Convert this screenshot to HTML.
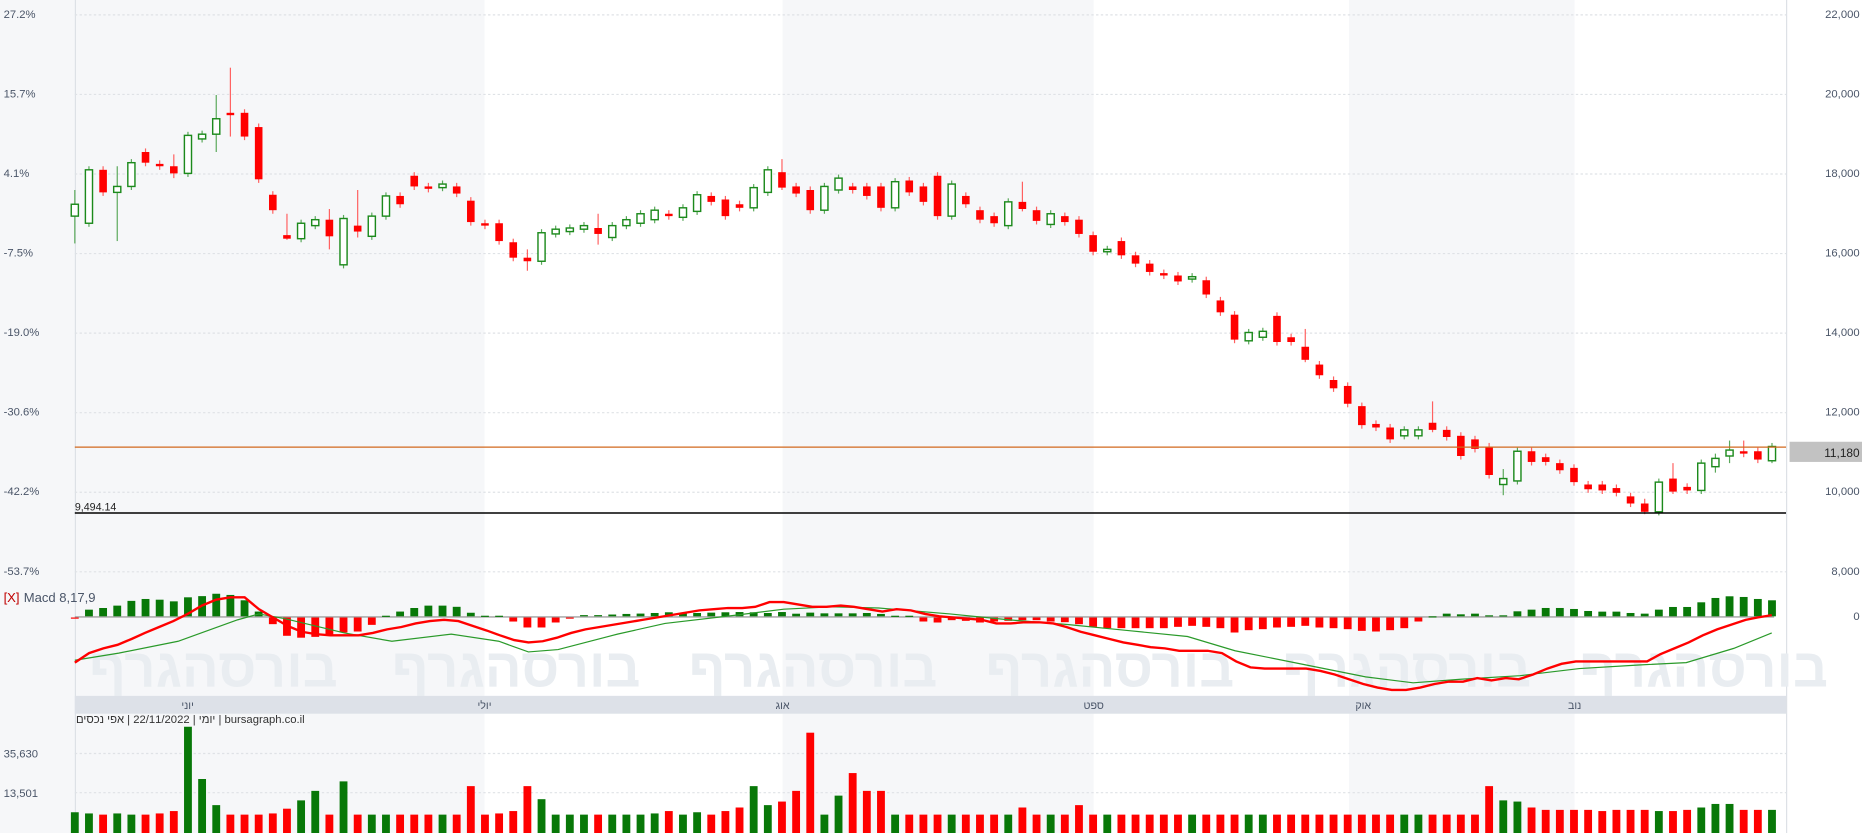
<!DOCTYPE html>
<html><head><meta charset="utf-8"><style>
html,body{margin:0;padding:0;background:#f6f7f9;}
svg{display:block;font-family:"Liberation Sans","Noto Sans CJK SC",sans-serif;}
</style></head><body>
<svg id="s" width="1862" height="833" viewBox="0 0 1568 701.47" xmlns="http://www.w3.org/2000/svg">
<rect x="0" y="0" width="1568" height="702" fill="#f6f7f9"/>
<rect x="408" y="0" width="251" height="586" fill="#ffffff"/>
<rect x="921" y="0" width="215" height="586" fill="#ffffff"/>
<rect x="1326" y="0" width="178" height="586" fill="#ffffff"/>
<rect x="408" y="601" width="251" height="101" fill="#ffffff"/>
<rect x="921" y="601" width="215" height="101" fill="#ffffff"/>
<rect x="1326" y="601" width="178" height="101" fill="#ffffff"/>
<rect x="1505" y="0" width="63" height="702" fill="#ffffff"/>
<line x1="1504.5" y1="0" x2="1504.5" y2="702" stroke="#dde1e6"/>
<line x1="63.5" y1="0" x2="63.5" y2="702" stroke="#dde1e6"/>
<g id="wm" font-size="46" font-weight="bold" fill="#e9edf1">
<text x="75" y="578">בורסהגרף</text><text x="330" y="578">בורסהגרף</text><text x="580" y="578">בורסהגרף</text><text x="830" y="578">בורסהגרף</text><text x="1080" y="578">בורסהגרף</text><text x="1330" y="578">בורסהגרף</text>
</g>
<g id="grid" stroke="#dfe2e6" stroke-dasharray="2,2"></g>
<g id="c"></g>
<line x1="63" y1="376.5" x2="1504" y2="376.5" stroke="#d2691e" stroke-width="1"/>
<line x1="63" y1="432" x2="1504" y2="432" stroke="#000" stroke-width="1.2"/>
<text x="63" y="430" font-size="9" fill="#222">9,494.14</text>
<rect x="1507" y="372" width="61" height="17" fill="#c2c2c2"/>
<text x="1566" y="385" font-size="10" fill="#222" text-anchor="end">11,180</text>
<g id="lab" font-size="9.5" fill="#4a5568"></g>
<text x="3" y="507" font-size="11" fill="#c00000">[X]</text>
<text x="20" y="507" font-size="11" fill="#4a5568">Macd 8,17,9</text>
<text x="1566" y="522" font-size="9.5" fill="#4a5568" text-anchor="end">0</text>
<rect x="63" y="586" width="1441" height="15" fill="#dde1e8"/>
<g font-size="9" fill="#4a5568" text-anchor="middle">
<text x="158" y="597">יוני</text><text x="408" y="597">יולי</text><text x="659" y="597">אוג</text><text x="921" y="597">ספט</text><text x="1148" y="597">אוק</text><text x="1326" y="597">נוב</text>
</g>
<text x="64" y="609" font-size="9.5" fill="#333" direction="ltr">יומי | 22/11/2022 | אפי נכסים | bursagraph.co.il</text>
<text x="3" y="638" font-size="9.5" fill="#4a5568">35,630</text>
<text x="3" y="671" font-size="9.5" fill="#4a5568">13,501</text>
<line x1="63" y1="634.5" x2="1504" y2="634.5" stroke="#dfe2e6" stroke-dasharray="2,2"/>
<line x1="63" y1="667.5" x2="1504" y2="667.5" stroke="#dfe2e6" stroke-dasharray="2,2"/>
<g id="m"></g>
<g id="v"></g>
</svg>
<script>
var NS="http://www.w3.org/2000/svg";
function el(p,t,a){var e=document.createElementNS(NS,t);for(var k in a)e.setAttribute(k,a[k]);document.getElementById(p).appendChild(e);return e;}
var ys=[12,79,146,213,280,347,414,481];
var L=["27.2%","15.7%","4.1%","-7.5%","-19.0%","-30.6%","-42.2%","-53.7%"];
var R=["22,000","20,000","18,000","16,000","14,000","12,000","10,000","8,000"];
ys.forEach(function(y,i){el("grid","line",{x1:63,x2:1504,y1:y+.5,y2:y+.5});
var t=el("lab","text",{x:3,y:y+3});t.textContent=L[i];
var r=el("lab","text",{x:1566,y:y+3,"text-anchor":"end"});r.textContent=R[i];});
var C=[[172,182,'g',160,205],[143,188,'g'],[143,162,'r'],[157,162,'g',140,203],[137,157,'g'],[128,137,'r'],[138,140,'r'],[140,146,'r',130,150],[114,146,'g'],[113,117,'g'],[100,113,'g',80,128],[95,97,'r',57,115],[95,115,'r'],[107,151,'r'],[164,177,'r'],[198,201,'r',180,202],[188,201,'g'],[185,190,'g'],[185,199,'r',176,210],[184,223,'g'],[190,195,'r',160,200],[182,199,'g'],[165,182,'g'],[165,172,'r'],[148,157,'r'],[157,157,'r'],[155,158,'g'],[157,163,'r'],[169,187,'r'],[188,190,'r'],[188,203,'r'],[204,217,'r'],[217,220,'r',210,228],[196,220,'g'],[193,197,'g'],[192,195,'g'],[190,193,'g'],[192,197,'r',180,206],[190,200,'g'],[185,190,'g'],[180,188,'g'],[177,185,'g'],[180,182,'r'],[175,183,'g'],[164,178,'g'],[165,170,'r'],[168,182,'r'],[172,175,'r'],[158,175,'g'],[143,162,'g'],[145,158,'r',134,160],[157,163,'r'],[160,177,'r'],[157,177,'g'],[150,160,'g'],[157,160,'r'],[157,165,'r'],[157,175,'r'],[153,175,'g'],[152,162,'r'],[157,170,'r'],[148,182,'r'],[155,182,'g'],[165,172,'r'],[177,185,'r'],[182,188,'r'],[170,190,'g'],[170,176,'r',153,178],[177,186,'r'],[180,189,'g'],[182,187,'r'],[185,197,'r'],[198,212,'r'],[210,212,'g'],[203,215,'r'],[215,222,'r'],[222,229,'r'],[230,232,'r'],[232,237,'r'],[233,235,'g'],[236,248,'r'],[253,263,'r'],[265,286,'r'],[280,287,'g'],[279,284,'g'],[266,288,'r'],[284,288,'r'],[292,303,'r',277,305],[307,316,'r'],[320,327,'r'],[325,340,'r'],[342,358,'r'],[357,360,'r'],[360,370,'r'],[362,367,'g'],[362,367,'g'],[356,362,'r',338,364],[362,368,'r'],[367,384,'r'],[370,378,'r'],[376,400,'r'],[403,408,'g',395,417],[380,405,'g'],[380,389,'r'],[385,389,'r'],[390,396,'r'],[394,406,'r'],[408,412,'r'],[408,413,'r'],[411,415,'r'],[418,424,'r'],[424,431,'r',420,433],[406,431,'g'],[403,414,'r',390,416],[410,413,'r'],[390,413,'g'],[386,393,'g',382,398],[379,384,'g',371,390],[380,382,'r',371,385],[380,387,'r'],[376,388,'g',373,390]];
var V=[684,685,686,685,686,686,685,683,612,656,678,686,686,686,685,681,674,666,686,658,686,686,686,686,686,686,686,686,662,686,685,683,662,673,686,686,686,686,686,686,686,685,683,686,684,686,683,680,662,678,675,666,617,686,670,651,666,666,686,686,686,686,686,686,686,686,686,680,686,686,686,678,686,686,686,686,686,686,686,686,686,686,686,686,686,686,686,686,686,686,686,686,686,686,686,686,686,686,686,686,662,674,675,680,682,682,682,682,683,682,682,682,683,683,682,680,677,677,682,682,682];
var H=[-1,5.6,7,9,13,14.6,14,12.6,16,17,19,18,13.5,4,-5.6,-15.4,-17,-16.3,-15.4,-12.6,-11.8,-6.2,0.5,4,7,9,9,8,3,0.5,0.5,-3.4,-8.4,-8.4,-4.2,-1,1,1,1.5,2,2.3,2.8,3.4,2.8,2.8,3.1,3.4,3.6,3.4,2.8,3.6,2.2,3.1,2.5,2.5,2.5,2.8,2,0.5,0.5];
[12,15,8,10,15,12,10,8,8,12,14,20,28,32,32,32,32,32,28,25,28,32,45,38,35,30,28,25,30,32,35,40,42,38,32,12].forEach(function(z){H.push(-z/3.56);});
[0,8,6,8,3,3,15,20,25,25,22,16,14,14,10,8,20,28,28,42,55,60,58,52,48].forEach(function(z){H.push(z/3.56);});
function X(i){return 63+i*11.91;}
C.forEach(function(c,i){var x=X(i),t=Math.min(c[0],c[1]),b=Math.max(c[0],c[1]);if(b-t<2)b=t+2;
var col=c[2]=='g'?'#1c8a1c':'#ff0000';
var hi=c[3]!==undefined?c[3]:t-3,lo=c[4]!==undefined?c[4]:b+3;
el("c","line",{x1:x,x2:x,y1:hi,y2:lo,stroke:c[2]=='g'?'#5aa85a':'#ff6060','stroke-width':1});
if(c[2]=='g')el("c","rect",{x:x-3,y:t,width:6,height:b-t,fill:'#fff',stroke:col,'stroke-width':1.2});
else el("c","rect",{x:x-3.2,y:t,width:6.4,height:b-t,fill:col});
var vy=V[i];el("v","rect",{x:x-3.3,y:vy,width:6.6,height:702-vy,fill:c[2]=='g'?'#087808':'#ff0000'});});
var M=[[63,558],[75,550],[87,546],[99,543],[111,538],[122,533],[134,528],[146,523],[158,517],[170,510],[182,505],[194,503],[206,503],[218,513],[230,520],[242,527],[254,532],[266,534],[278,535],[290,535],[302,535],[314,533],[326,530],[338,528],[350,525],[362,523],[374,522],[386,523],[398,527],[410,531],[421,535],[433,539],[445,541],[457,540],[469,537],[481,533],[493,530],[505,528],[517,526],[529,524],[541,522],[553,520],[565,518],[577,516],[589,514],[601,513],[613,512],[625,512],[636,511],[648,507],[660,507],[672,509],[684,511],[696,511],[708,510],[719,511],[731,513],[743,515],[755,513],[767,514],[779,517],[791,519],[803,520],[815,521],[827,522],[839,525],[851,525],[863,524],[875,524],[887,525],[898,528],[910,532],[922,535],[934,538],[946,541],[958,543],[969,545],[981,546],[993,548],[1005,548],[1017,548],[1029,550],[1041,557],[1053,562],[1065,563],[1076,563],[1088,563],[1100,563],[1112,565],[1124,568],[1136,572],[1148,576],[1160,579],[1172,581],[1184,581],[1196,579],[1208,576],[1220,574],[1232,574],[1244,571],[1256,573],[1268,571],[1279,572],[1291,568],[1303,563],[1315,559],[1327,557],[1339,557],[1351,557],[1363,557],[1375,557],[1387,557],[1398,551],[1410,546],[1422,541],[1434,535],[1446,530],[1458,526],[1470,522],[1480,520],[1492,518]];
var S=[[63,556],[100,550],[150,540],[200,522],[218,517],[240,521],[290,533],[330,540],[380,534],[420,540],[445,549],[470,547],[520,534],[560,525],[620,518],[660,513],[700,511],[740,512],[800,517],[850,522],[900,526],[950,531],[1000,536],[1040,548],[1100,560],[1150,570],[1190,575],[1230,572],[1280,569],[1330,563],[1380,560],[1420,558],[1460,546],[1492,533]];
el("m","line",{x1:63,x2:1494,y1:519.5,y2:519.5,stroke:'#a0a0a0','stroke-width':1.2});
H.forEach(function(d,i){var x=X(i);
if(d>=0)el("m","rect",{x:x-3.3,y:519-d,width:6.6,height:Math.max(d,1),fill:'#087808'});
else el("m","rect",{x:x-3.3,y:520,width:6.6,height:-d,fill:'#ff0000'});});
el("m","polyline",{points:S.map(function(p){return p.join(',')}).join(' '),fill:'none',stroke:'#2a9a2a','stroke-width':1});
el("m","polyline",{points:M.map(function(p){return p.join(',')}).join(' '),fill:'none',stroke:'#ff0000','stroke-width':2});
</script>
</body></html>
